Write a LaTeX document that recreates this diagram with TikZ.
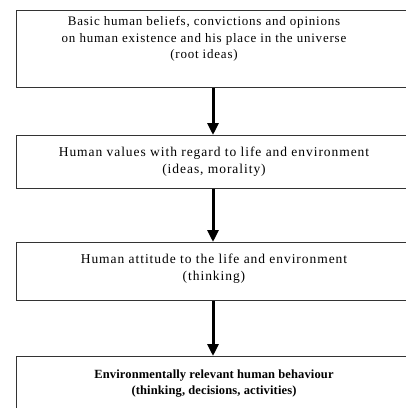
\documentclass[tikz,border=0pt]{standalone}
\usepackage{fontspec}
\setmainfont{Liberation Serif}
\usetikzlibrary{arrows.meta,calc}
\newfontfamily\fa[LetterSpace=6]{Liberation Serif}
\newfontfamily\fb[LetterSpace=7]{Liberation Serif}
\newfontfamily\fc[LetterSpace=1]{Liberation Serif}
\begin{document}
\begin{tikzpicture}[x=1pt,y=-1pt,
  box/.style={draw=black!80,line width=1.3pt,rectangle,inner sep=0pt,anchor=north west},
  lbl/.style={align=center,inner sep=0pt,text=black},
  arr/.style={line width=3pt,-{Triangle[width=11pt,length=12pt]}}]
\useasboundingbox (0,0) rectangle (406,408);
\clip (0,0) rectangle (406,408);
\node[box,minimum width=404pt,minimum height=77pt] (b1) at (16,10) {};
\node[box,minimum width=404pt,minimum height=53pt] (b2) at (16,135) {};
\node[box,minimum width=404pt,minimum height=58pt] (b3) at (16,242) {};
\node[box,minimum width=404pt,minimum height=70pt] (b4) at (16,356) {};
\coordinate (ax) at (213,0);
\node[lbl,font=\fa\fontsize{13}{16.5}\selectfont] (t1) at (204,39) {Basic human beliefs, convictions and opinions\\on human existence and his place in the universe\\(root ideas)};
\node[lbl,font=\fb\fontsize{13.5}{17}\selectfont] (t2) at (214,162) {Human values with regard to life and environment\\(ideas, morality)};
\node[lbl,font=\fb\fontsize{13.5}{17}\selectfont] (t3) at (214,269) {Human attitude to the life and environment\\(thinking)};
\node[lbl,font=\fc\fontsize{12.5}{16}\selectfont\bfseries] (t4) at (214,384) {Environmentally relevant human behaviour\\(thinking, decisions, activities)};
\draw[arr] (b1.south west -| ax) -- (b2.north west -| ax);
\draw[arr] (b2.south west -| ax) -- (b3.north west -| ax);
\draw[arr] (b3.south west -| ax) -- (b4.north west -| ax);
\end{tikzpicture}
\end{document}
